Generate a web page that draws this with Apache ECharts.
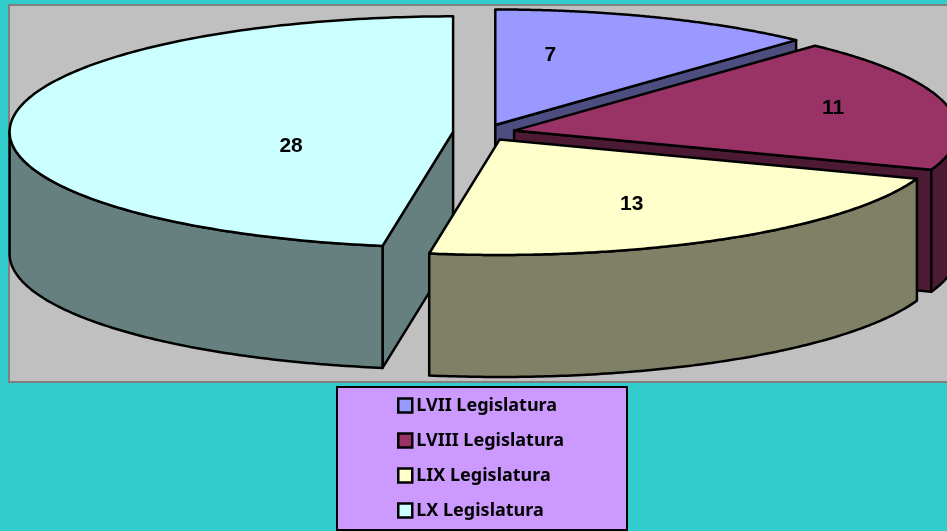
<!DOCTYPE html>
<html>
<head>
<meta charset="utf-8">
<style>html,body{margin:0;padding:0;background:#33CCCC;overflow:hidden}#c{width:947px;height:531px}</style>
<script src="https://cdn.jsdelivr.net/npm/echarts@6/dist/echarts.min.js"></script>
</head>
<body>
<div id="c"></div>
<script>
const categories = ['LVII Legislatura', 'LVIII Legislatura', 'LIX Legislatura', 'LX Legislatura'];
const values = [7, 11, 13, 28];
const topColors = ['#9999FF', '#993366', '#FFFFCC', '#CCFFFF'];
const sideColors = ['#4D4D80', '#4D1A33', '#808066', '#668080'];

// Drawing style of the tilted pie
const CX = 484, CY = 132.5, RX = 443.5, RY = 115.5, DEPTH = 122, EXPLODE = 31;
const labelOffsets = [[55, -70], [319, -22], [132, 65], [-162, 14]];
const seriesZ = [3, 4, 5, 2];

const total = values.reduce((a, b) => a + b, 0);
const TAU = Math.PI * 2;

function renderSlice(index) {
  return function (params, api) {
    const before = values.slice(0, index).reduce((a, b) => a + b, 0);
    const a0 = before / total * TAU;
    const a1 = a0 + api.value(0) / total * TAU;
    const mid = (a0 + a1) / 2;
    const ax = CX + EXPLODE * Math.sin(mid);
    const ay = CY - EXPLODE * (RY / RX) * Math.cos(mid);
    const pt = (a, d) => [ax + RX * Math.sin(a), ay - RY * Math.cos(a) + (d || 0)];
    const line = { stroke: '#000', lineWidth: 2.5, lineJoin: 'round' };
    const side = sideColors[index];
    const children = [];
    const poly = (points, fill) => children.push({
      type: 'polygon', shape: { points: points }, style: Object.assign({ fill: fill }, line)
    });
    // visible cut faces
    if (Math.sin(a1) > 1e-6) poly([[ax, ay], pt(a1), pt(a1, DEPTH), [ax, ay + DEPTH]], side);
    if (Math.sin(a0) < -1e-6) poly([[ax, ay], pt(a0), pt(a0, DEPTH), [ax, ay + DEPTH]], side);
    // outer wall: the front half only
    const w0 = Math.max(a0, Math.PI / 2), w1 = Math.min(a1, Math.PI * 1.5);
    if (w1 > w0) {
      const upper = [], lower = [];
      for (let i = 0; i <= 120; i++) {
        const a = w0 + (w1 - w0) * i / 120;
        upper.push(pt(a));
        lower.unshift(pt(a, DEPTH));
      }
      poly(upper.concat(lower), side);
    }
    // top face
    const top = [[ax, ay]];
    for (let i = 0; i <= 180; i++) top.push(pt(a0 + (a1 - a0) * i / 180));
    poly(top, topColors[index]);
    children.push({
      type: 'text',
      style: {
        x: ax + labelOffsets[index][0], y: ay + labelOffsets[index][1],
        text: String(api.value(0)), fill: '#000',
        font: 'bold 21px "Liberation Sans", Arial, sans-serif',
        align: 'center', verticalAlign: 'middle'
      }
    });
    return { type: 'group', children: children };
  };
}

const chart = echarts.init(document.getElementById('c'), null, { renderer: 'canvas' });
chart.setOption({
  backgroundColor: '#33CCCC',
  animation: false,
  graphic: [
    { type: 'rect', z: -10, shape: { x: 9, y: 5, width: 960, height: 377 },
      style: { fill: '#C0C0C0', stroke: '#808080', lineWidth: 2 } },
    { type: 'rect', z: -10, shape: { x: 337, y: 387, width: 290, height: 143 },
      style: { fill: '#CC99FF', stroke: '#000', lineWidth: 2 } }
  ],
  legend: {
    orient: 'vertical', left: 397, top: 396, padding: 0,
    itemWidth: 14, itemHeight: 14, itemGap: 16,
    icon: 'rect', selectedMode: false,
    data: categories,
    itemStyle: { borderColor: '#000', borderWidth: 2.5 },
    textStyle: { color: '#000', fontFamily: '"Noto Sans"', fontWeight: 'bold', fontSize: 18,
      lineHeight: 19, padding: [0, 0, 0, -1] }
  },
  series: categories.map((name, i) => ({
    type: 'custom', name: name, coordinateSystem: 'none',
    itemStyle: { color: topColors[i] },
    silent: true, z: seriesZ[i],
    data: [[values[i]]],
    renderItem: renderSlice(i)
  }))
});
</script>
</body>
</html>
